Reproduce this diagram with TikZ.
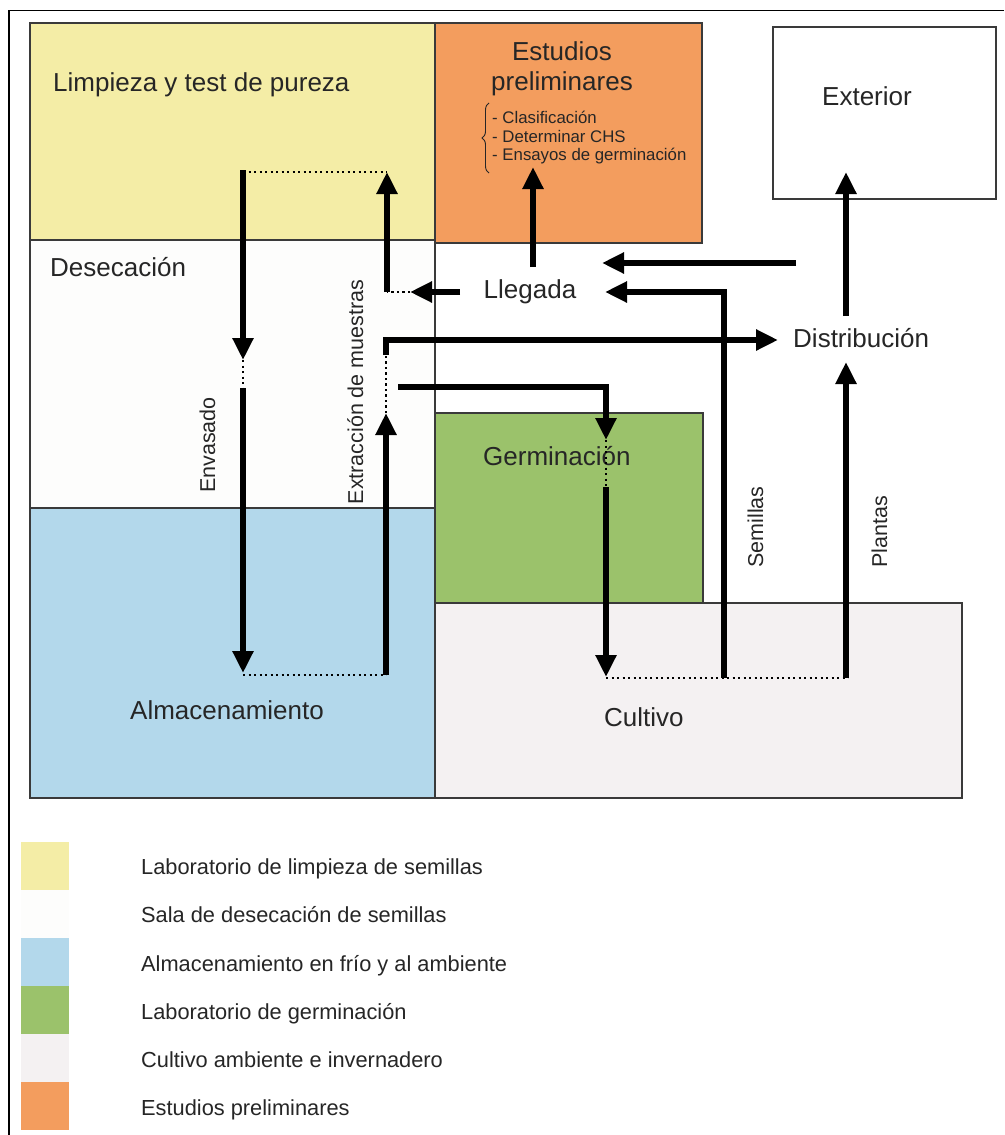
\documentclass[tikz,border=0pt]{standalone}
\usepackage{fontspec}
\setmainfont{Liberation Sans}
\usetikzlibrary{arrows.meta,decorations.pathreplacing}

\definecolor{limpieza}{HTML}{F4EDA6}
\definecolor{estudios}{HTML}{F39D5E}
\definecolor{almacen}{HTML}{B3D8EB}
\definecolor{germina}{HTML}{9BC26B}
\definecolor{cultivo}{HTML}{F4F1F2}
\definecolor{deseca}{HTML}{FDFDFC}
\definecolor{framecol}{HTML}{3A3A3A}
\definecolor{textcol}{HTML}{262626}

\begin{document}
\begin{tikzpicture}[x=1pt,y=-1pt,
  room/.style={draw=framecol, line width=1.8pt},
  flow/.style={line width=5.5pt, line join=miter, -{Triangle[width=20pt,length=22pt]}},
  bar/.style={line width=5.5pt, line join=miter},
  dotline/.style={line width=2.2pt, dash pattern=on 2.2pt off 3.3pt},
  big/.style={text=textcol, font=\fontsize{26}{31}\selectfont, inner sep=0pt},
  side/.style={text=textcol, font=\fontsize{21.5}{26}\selectfont, inner sep=0pt, rotate=90, anchor=base},
  small/.style={text=textcol, font=\fontsize{16.8}{20}\selectfont, inner sep=0pt, anchor=base west},
  legtext/.style={text=textcol, font=\fontsize{21.8}{26}\selectfont, inner sep=0pt, anchor=base west},
  swatch/.style={minimum width=48pt, minimum height=48pt, inner sep=0pt, outer sep=0pt}
]
% page
\fill[white] (0,0) rectangle (1004,1135);
\useasboundingbox (0,0) rectangle (1004,1135);
\draw[line width=1.4pt] (1004,10.5) -- (9,10.5) -- (9,1135);

% rooms of the plan
\filldraw[room, fill=limpieza] (30,23) rectangle (435,240);
\filldraw[room, fill=estudios] (435,23) rectangle (702,243);
\filldraw[room, fill=deseca] (30,240) rectangle (435,508);
\filldraw[room, fill=almacen] (30,508) rectangle (435,798);
\filldraw[room, fill=germina] (435,413) rectangle (703,603);
\filldraw[room, fill=cultivo] (435,603) rectangle (962,798);
\filldraw[room, fill=white] (773,27) rectangle (996,199);
\draw[room] (435,243) -- (435,413);

% room and process labels
\node[big, anchor=base west] (limp) at (53,91) {Limpieza y test de pureza};
\node[big, anchor=base west] (desec) at (50,276) {Desecación};
\node[big, anchor=base] (estA) at (562,60) {Estudios};
\node[big, anchor=base] (estB) at (562,90) {preliminares};
\node[small] (est1) at (492,123) {- Clasificación};
\node[small] (est2) at (492,142) {- Determinar CHS};
\node[small] (est3) at (492,160) {- Ensayos de germinación};
\draw[textcol, line width=0.9pt, decorate, decoration={brace, amplitude=7pt}]
  (489,173) -- (489,103);
\node[big, anchor=base] (ext) at (867,105) {Exterior};
\node[big, anchor=base] (lleg) at (530,298) {Llegada};
\node[big, anchor=base west] (dist) at (793,347) {Distribución};
\node[big, anchor=base west] (germ) at (483,465) {Germinación};
\node[big, anchor=base west] (alm) at (130,719) {Almacenamiento};
\node[big, anchor=base west] (cult) at (604,726) {Cultivo};
\node[side] (envas) at (215,445) {Envasado};
\node[side] (extr) at (363,392) {Extracción de muestras};
\node[side] (semi) at (763,527) {Semillas};
\node[side] (plant) at (887,532) {Plantas};

% points of the flow lines
\coordinate (envTop) at (243,170);
\coordinate (envHead) at (243,360);
\coordinate (envRes) at (243,388);
\coordinate (envFoot) at (243,673);
\coordinate (envFootDot) at (243,675);
\coordinate (extFoot) at (386,675);
\coordinate (extHead) at (386,413);
\coordinate (extRes) at (386,355);
\coordinate (distIn) at (778,340);
\coordinate (germStart) at (398,387);
\coordinate (germHead) at (606,440);
\coordinate (germRes) at (606,487);
\coordinate (cultHead) at (606,677);
\coordinate (cultDotA) at (606,678);
\coordinate (cultDotB) at (848,678);
\coordinate (semFoot) at (724,678);
\coordinate (llegIn) at (605,292);
\coordinate (plantFoot) at (846,678);
\coordinate (distUp) at (846,362);
\coordinate (distOut) at (846,316);
\coordinate (extIn) at (846,172);
\coordinate (outStart) at (796,263);
\coordinate (llegInTop) at (602,263);
\coordinate (llegUp) at (533,267);
\coordinate (estIn) at (533,167);
\coordinate (llegOut) at (460,292);
\coordinate (sampHead) at (410,292);
\coordinate (sampCorner) at (387,292);
\coordinate (limpIn) at (387,172);
\coordinate (limpDot) at (243,172);

% dotted joints
\draw[dotline] (limpDot) -- (limpIn);
\draw[dotline] (envHead) -- (envRes);
\draw[dotline] (envFootDot) -- (extFoot);
\draw[dotline] (extHead) -- (extRes);
\draw[dotline] (germHead) -- (germRes);
\draw[dotline] (cultDotA) -- (cultDotB);
\draw[dotline] (sampHead) -- (sampCorner);

% arrows
\draw[flow] (envTop) -- (envHead);
\draw[flow] (envRes) -- (envFoot);
\draw[flow] (extFoot) -- (extHead);
\draw[flow] (extRes) |- (distIn);
\draw[flow] (germStart) -| (germHead);
\draw[flow] (germRes) -- (cultHead);
\draw[flow] (semFoot) |- (llegIn);
\draw[flow] (plantFoot) -- (distUp);
\draw[flow] (distOut) -- (extIn);
\draw[flow] (outStart) -- (llegInTop);
\draw[flow] (llegUp) -- (estIn);
\draw[flow] (llegOut) -- (sampHead);
\draw[flow] (sampCorner) -- (limpIn);

% legend
\node[swatch, fill=limpieza] (swA) at (45,866) {};
\node[swatch, fill=deseca] (swB) at (45,914) {};
\node[swatch, fill=almacen] (swC) at (45,962) {};
\node[swatch, fill=germina] (swD) at (45,1010) {};
\node[swatch, fill=cultivo] (swE) at (45,1058) {};
\node[swatch, fill=estudios] (swF) at (45,1106) {};
\node[legtext] (lgA) at (141,874) {Laboratorio de limpieza de semillas};
\node[legtext] (lgB) at (141,922) {Sala de desecación de semillas};
\node[legtext] (lgC) at (141,971) {Almacenamiento en frío y al ambiente};
\node[legtext] (lgD) at (141,1019) {Laboratorio de germinación};
\node[legtext] (lgE) at (141,1067) {Cultivo ambiente e invernadero};
\node[legtext] (lgF) at (141,1115) {Estudios preliminares};
\end{tikzpicture}
\end{document}
